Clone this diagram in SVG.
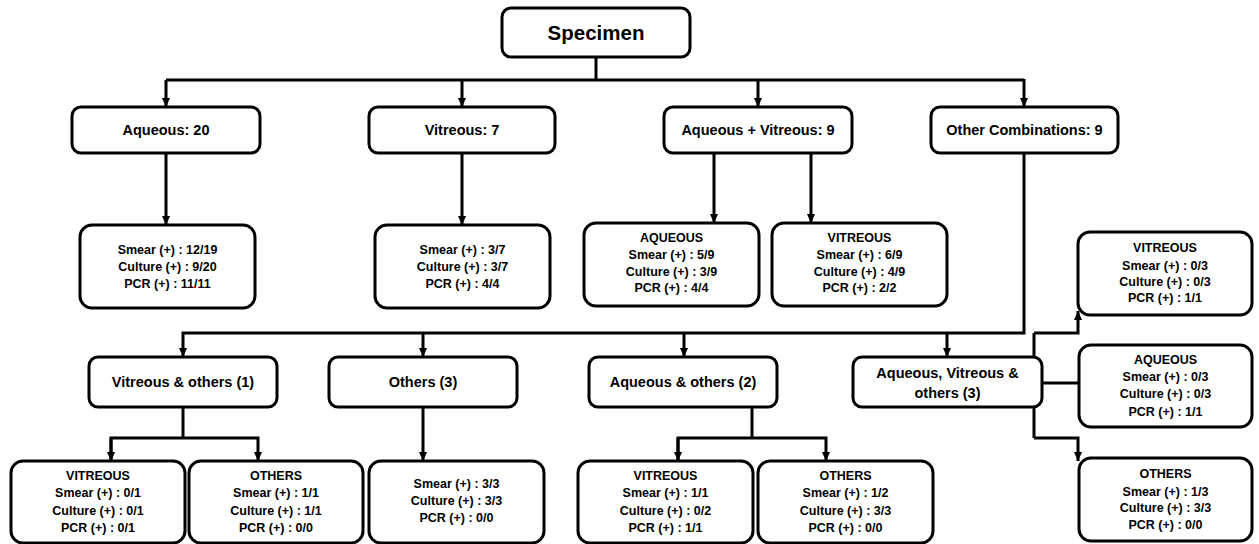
<svg xmlns="http://www.w3.org/2000/svg" width="1259" height="544" viewBox="0 0 1259 544">
<style>
.box{fill:#fff;stroke:#000;stroke-width:3}
.ln{fill:none;stroke:#000;stroke-width:3}
text{font-family:"Liberation Sans",Arial,sans-serif;font-weight:bold;text-anchor:middle;fill:#000}
.big{font-size:20.5px}
.lbl{font-size:14.5px}
.st{font-size:12.5px}
</style>
<defs>
<marker id="ah" viewBox="0 0 10 10" refX="10" refY="5" markerWidth="10" markerHeight="9" markerUnits="userSpaceOnUse" orient="auto">
<path d="M0,0.5 L10,5 L0,9.5 z" fill="#000"/>
</marker>
</defs>
<rect width="1259" height="544" fill="#fff"/>
<g id="connectors">
<path class="ln" d="M596,57 V80"/>
<path class="ln" d="M166,80 H1024"/>
<path class="ln" d="M166,80 V107" marker-end="url(#ah)"/>
<path class="ln" d="M462,80 V107" marker-end="url(#ah)"/>
<path class="ln" d="M758,80 V107" marker-end="url(#ah)"/>
<path class="ln" d="M1024,79 V107" marker-end="url(#ah)"/>
<path class="ln" d="M166,153 V225" marker-end="url(#ah)"/>
<path class="ln" d="M462,153 V225" marker-end="url(#ah)"/>
<path class="ln" d="M714,153 V223" marker-end="url(#ah)"/>
<path class="ln" d="M811,153 V223" marker-end="url(#ah)"/>
<path class="ln" d="M1024,153 V333 H183 V357" marker-end="url(#ah)"/>
<path class="ln" d="M423,333 V357" marker-end="url(#ah)"/>
<path class="ln" d="M684,333 V357" marker-end="url(#ah)"/>
<path class="ln" d="M947,333 V357" marker-end="url(#ah)"/>
<path class="ln" d="M183,407 V438"/>
<path class="ln" d="M111,461 V438 H258 V461" marker-end="url(#ah)"/>
<path class="ln" d="M111,438 V461" marker-end="url(#ah)"/>
<path class="ln" d="M423,407 V461" marker-end="url(#ah)"/>
<path class="ln" d="M752,407 V438"/>
<path class="ln" d="M678,461 V438 H826 V461" marker-end="url(#ah)"/>
<path class="ln" d="M678,438 V461" marker-end="url(#ah)"/>
<path class="ln" d="M1034,333 V438"/>
<path class="ln" d="M1034,333 H1078 V311" marker-end="url(#ah)"/>
<path class="ln" d="M1042,383 H1080"/>
<path class="ln" d="M1034,438 H1078 V461" marker-end="url(#ah)"/>
</g>
<g id="specimen"><rect class="box" x="502" y="8" width="188" height="49" rx="9"/><text class="big" x="596" y="40">Specimen</text></g>
<g id="aqueous"><rect class="box" x="72" y="107" width="188" height="46" rx="9"/><text class="lbl" x="166" y="135">Aqueous: 20</text></g>
<g id="vitreous"><rect class="box" x="369" y="107" width="186" height="46" rx="9"/><text class="lbl" x="462" y="135">Vitreous: 7</text></g>
<g id="aqvit"><rect class="box" x="664" y="107" width="188" height="46" rx="9"/><text class="lbl" x="758" y="135">Aqueous + Vitreous: 9</text></g>
<g id="othercomb"><rect class="box" x="931" y="107" width="187" height="46" rx="9"/><text class="lbl" x="1024.5" y="135">Other Combinations: 9</text></g>

<g id="aq-res"><rect class="box" x="80" y="225" width="175" height="83" rx="12"/>
<text class="st" x="167.5" y="254">Smear (+) : 12/19</text><text class="st" x="167.5" y="271">Culture (+) : 9/20</text><text class="st" x="167.5" y="288">PCR (+) : 11/11</text></g>
<g id="vit-res"><rect class="box" x="375" y="225" width="175" height="83" rx="12"/>
<text class="st" x="462.5" y="254">Smear (+) : 3/7</text><text class="st" x="462.5" y="271">Culture (+) : 3/7</text><text class="st" x="462.5" y="288">PCR (+) : 4/4</text></g>
<g id="av-aq"><rect class="box" x="584" y="223" width="175" height="83" rx="12"/>
<text class="st" x="671.5" y="242">AQUEOUS</text><text class="st" x="671.5" y="259">Smear (+) : 5/9</text><text class="st" x="671.5" y="276">Culture (+) : 3/9</text><text class="st" x="671.5" y="292">PCR (+) : 4/4</text></g>
<g id="av-vit"><rect class="box" x="772" y="223" width="175" height="83" rx="12"/>
<text class="st" x="859.5" y="242">VITREOUS</text><text class="st" x="859.5" y="259">Smear (+) : 6/9</text><text class="st" x="859.5" y="276">Culture (+) : 4/9</text><text class="st" x="859.5" y="292">PCR (+) : 2/2</text></g>
<g id="avo-vit"><rect class="box" x="1078" y="232" width="174" height="83" rx="12"/>
<text class="st" x="1165" y="252">VITREOUS</text><text class="st" x="1165" y="270">Smear (+) : 0/3</text><text class="st" x="1165" y="286">Culture (+) : 0/3</text><text class="st" x="1165" y="302">PCR (+) : 1/1</text></g>

<g id="vit-oth"><rect class="box" x="89" y="357" width="188" height="50" rx="9"/><text class="lbl" x="183" y="387">Vitreous &amp; others (1)</text></g>
<g id="others3"><rect class="box" x="329" y="357" width="188" height="50" rx="9"/><text class="lbl" x="423" y="387">Others (3)</text></g>
<g id="aq-oth"><rect class="box" x="589" y="357" width="188" height="50" rx="9"/><text class="lbl" x="683" y="387">Aqueous &amp; others (2)</text></g>
<g id="avo"><rect class="box" x="853" y="357" width="189" height="50" rx="9"/><text class="lbl" x="947.5" y="378">Aqueous, Vitreous &amp;</text><text class="lbl" x="947.5" y="398">others (3)</text></g>
<g id="avo-aq"><rect class="box" x="1079" y="345" width="173" height="82" rx="12"/>
<text class="st" x="1165.5" y="364">AQUEOUS</text><text class="st" x="1165.5" y="381">Smear (+) : 0/3</text><text class="st" x="1165.5" y="398">Culture (+) : 0/3</text><text class="st" x="1165.5" y="416">PCR (+) : 1/1</text></g>

<g id="vo-vit"><rect class="box" x="11" y="461" width="174" height="82" rx="12"/>
<text class="st" x="98" y="480">VITREOUS</text><text class="st" x="98" y="497">Smear (+) : 0/1</text><text class="st" x="98" y="515">Culture (+) : 0/1</text><text class="st" x="98" y="532">PCR (+) : 0/1</text></g>
<g id="vo-oth"><rect class="box" x="189" y="461" width="174" height="82" rx="12"/>
<text class="st" x="276" y="480">OTHERS</text><text class="st" x="276" y="497">Smear (+) : 1/1</text><text class="st" x="276" y="515">Culture (+) : 1/1</text><text class="st" x="276" y="532">PCR (+) : 0/0</text></g>
<g id="o3-res"><rect class="box" x="369" y="461" width="175" height="82" rx="12"/>
<text class="st" x="456.5" y="488">Smear (+) : 3/3</text><text class="st" x="456.5" y="505">Culture (+) : 3/3</text><text class="st" x="456.5" y="522">PCR (+) : 0/0</text></g>
<g id="ao-vit"><rect class="box" x="578" y="461" width="175" height="82" rx="12"/>
<text class="st" x="665.5" y="480">VITREOUS</text><text class="st" x="665.5" y="497">Smear (+) : 1/1</text><text class="st" x="665.5" y="515">Culture (+) : 0/2</text><text class="st" x="665.5" y="532">PCR (+) : 1/1</text></g>
<g id="ao-oth"><rect class="box" x="758" y="461" width="175" height="82" rx="12"/>
<text class="st" x="845.5" y="480">OTHERS</text><text class="st" x="845.5" y="497">Smear (+) : 1/2</text><text class="st" x="845.5" y="515">Culture (+) : 3/3</text><text class="st" x="845.5" y="532">PCR (+) : 0/0</text></g>
<g id="avo-oth"><rect class="box" x="1079" y="458" width="173" height="83" rx="12"/>
<text class="st" x="1165.5" y="478">OTHERS</text><text class="st" x="1165.5" y="496">Smear (+) : 1/3</text><text class="st" x="1165.5" y="512">Culture (+) : 3/3</text><text class="st" x="1165.5" y="529">PCR (+) : 0/0</text></g>
</svg>
